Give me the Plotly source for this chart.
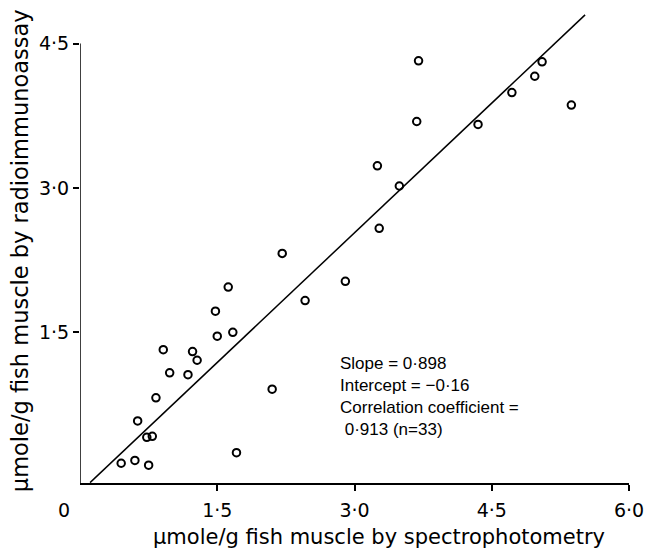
import plotly.graph_objects as go

# Data
spectro = [1.62, 1.48, 1.50, 1.67, 0.91, 1.23, 1.28, 0.98, 1.18, 0.83, 0.63,
           0.73, 0.79, 0.45, 0.60, 0.75, 1.71, 2.10, 2.46, 2.21, 2.90, 3.25,
           3.49, 3.27, 3.70, 3.68, 4.35, 4.72, 4.97, 5.05, 5.37]
radio = [1.97, 1.72, 1.46, 1.50, 1.32, 1.30, 1.21, 1.08, 1.06, 0.82, 0.58,
         0.41, 0.42, 0.14, 0.17, 0.12, 0.25, 0.91, 1.83, 2.32, 2.03, 3.23,
         3.02, 2.58, 4.32, 3.69, 3.66, 3.99, 4.16, 4.31, 3.86]
slope = 0.898
intercept = -0.16
line_x = [0.11, 5.52]
x_ticks = [1.5, 3.0, 4.5, 6.0]
x_tick_labels = ["1·5", "3·0", "4·5", "6·0"]
y_ticks = [1.5, 3.0, 4.5]
y_tick_labels = ["1·5", "3·0", "4·5"]
stats_text = ["Slope = 0·898", "Intercept = −0·16", "Correlation coefficient =", " 0·913 (n=33)"]
x_title = "µmole/g fish muscle by spectrophotometry"
y_title = "µmole/g fish muscle by radioimmunoassay"

FONT = "DejaVu Sans"
y_bottom = -0.065

fig = go.Figure()
fig.add_trace(go.Scatter(
    x=line_x, y=[slope * v + intercept for v in line_x], mode="lines",
    line=dict(color="black", width=1.5), hoverinfo="skip", showlegend=False))
fig.add_trace(go.Scatter(
    x=spectro, y=radio, mode="markers",
    marker=dict(symbol="circle-open", size=7.5, color="black", line=dict(width=2)),
    showlegend=False, cliponaxis=False))

# y axis line drawn only up to 4.5 (the regression line runs above it)
fig.add_shape(type="line", xref="x", yref="y", x0=0, x1=0, y0=y_bottom, y1=4.5,
              line=dict(color="black", width=1.5))

fig.add_annotation(x=0, y=0, xref="paper", yref="paper", text="0", showarrow=False,
                   xanchor="center", yanchor="middle", xshift=-16, yshift=-27,
                   font=dict(family=FONT, size=19, color="black"))
fig.add_annotation(x=2.82, y=1.30, xref="x", yref="y", xanchor="left", yanchor="top",
                   align="left", showarrow=False, text="<br>".join(stats_text),
                   font=dict(family="Liberation Sans", size=17, color="black"))
# axis titles
fig.add_annotation(x=0.545, y=0, xref="paper", yref="paper", text=x_title,
                   showarrow=False, xanchor="center", yanchor="middle", yshift=-54,
                   font=dict(family=FONT, size=21, color="black"))
fig.add_annotation(x=0, y=0.485, xref="paper", yref="paper", text=y_title,
                   showarrow=False, xanchor="center", yanchor="middle", textangle=-90,
                   xshift=-60, font=dict(family=FONT, size=22.5, color="black"))

fig.update_layout(
    width=650, height=554,
    margin=dict(l=80, r=21, t=5, b=71),
    paper_bgcolor="white", plot_bgcolor="white",
    font=dict(family=FONT, color="black"),
    xaxis=dict(range=[0, 6], showgrid=False, zeroline=False, showline=True,
               linecolor="black", linewidth=1.5, ticks="outside", ticklen=6,
               tickcolor="black", tickwidth=1.5, tickvals=x_ticks, ticktext=x_tick_labels,
               tickfont=dict(family=FONT, size=19), ticklabelstandoff=3),
    yaxis=dict(range=[y_bottom, 4.9], showgrid=False, zeroline=False, showline=False,
               ticks="outside", ticklen=6, tickcolor="black", tickwidth=1.5,
               tickvals=y_ticks, ticktext=y_tick_labels,
               tickfont=dict(family=FONT, size=19)),
)

fig.write_html("out.html", config={"displayModeBar": False},
               post_script="document.body.style.margin='0';")
